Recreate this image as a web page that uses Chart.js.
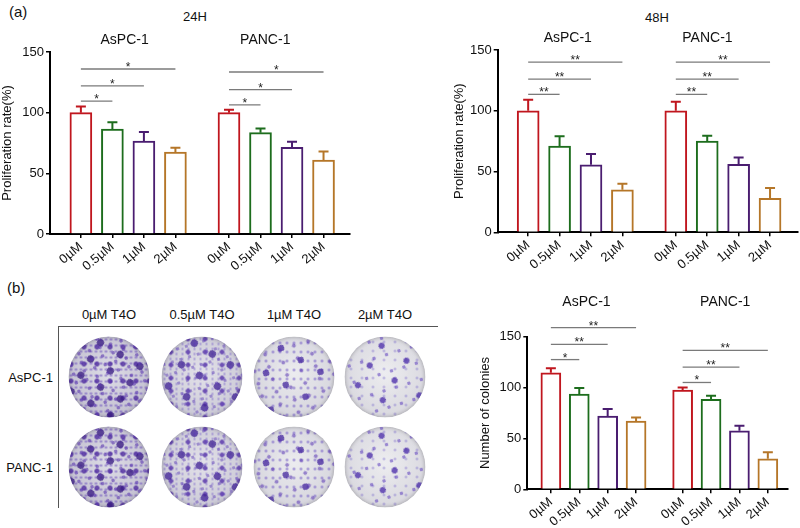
<!DOCTYPE html>
<html>
<head>
<meta charset="utf-8">
<script src="https://cdn.jsdelivr.net/npm/chart.js@4.4.1/dist/chart.umd.min.js"></script>
<style>
  html, body { margin: 0; padding: 0; background: #fff; }
  #fig { position: relative; width: 800px; height: 528px; overflow: hidden;
         font-family: "Liberation Sans", Arial, sans-serif; color: #111; }
  .txt { position: absolute; white-space: nowrap; line-height: 1; }
  .c { transform: translate(-50%, -50%); }
  .r { transform: translate(-100%, -50%); }
  .box { position: absolute; }
  .plate { position: absolute; border-radius: 50%; transform: translate(-50%, -50%);
           overflow: hidden; box-shadow: inset 0 0 4px rgba(0,0,0,.3); }
  .plate::before { content: ''; position: absolute; inset: 0; border-radius: 50%;
           transform: rotate(31deg); opacity: .9; }
  .plate::after { content: ''; position: absolute; inset: 0; border-radius: 50%;
           transform: rotate(-17deg); opacity: .8; }
  .d0 { background:
          radial-gradient(circle, rgba(80,45,160,.8) 0 2.2px, transparent 2.8px) 9px 2px/13px 17px,
          radial-gradient(circle, rgba(110,80,190,.55) 0 1px, transparent 1.6px) 0 0/5px 6px,
          radial-gradient(circle at 50% 45%, #dedde6, #b9b6c9); }
  .d0::before { background: radial-gradient(circle, rgba(55,25,130,.85) 0 3.4px, transparent 4.1px) 4px 6px/23px 19px; }
  .d0::after  { background: radial-gradient(circle, rgba(90,55,175,.75) 0 1.6px, transparent 2.2px) 2px 5px/11px 9px; }
  .d1 { background:
          radial-gradient(circle, rgba(85,50,170,.8) 0 2px, transparent 2.6px) 1px 9px/17px 13px,
          radial-gradient(circle, rgba(115,90,200,.45) 0 .9px, transparent 1.5px) 0 0/6px 5px,
          radial-gradient(circle at 50% 45%, #e3e2e9, #c3c1d0); }
  .d1::before { background: radial-gradient(circle, rgba(65,35,150,.85) 0 3.5px, transparent 4.2px) 6px 3px/21px 25px; }
  .d1::after  { background: radial-gradient(circle, rgba(100,70,185,.65) 0 1.3px, transparent 1.9px) 3px 1px/9px 11px; }
  .d2 { background:
          radial-gradient(circle, rgba(105,80,195,.55) 0 1px, transparent 1.6px) 2px 2px/7px 9px,
          radial-gradient(circle at 50% 45%, #ececef, #cecdd7); }
  .d2::before { background: radial-gradient(circle, rgba(70,40,160,.85) 0 3px, transparent 3.6px) 3px 8px/23px 29px; }
  .d2::after  { background: radial-gradient(circle, rgba(90,55,180,.7) 0 1.7px, transparent 2.3px) 12px 4px/15px 13px; }
  .d3 { background:
          radial-gradient(circle, rgba(110,90,200,.45) 0 .9px, transparent 1.5px) 1px 1px/11px 9px,
          radial-gradient(circle at 50% 45%, #ededf0, #d2d1d9); }
  .d3::before { background: radial-gradient(circle, rgba(75,45,170,.85) 0 2.8px, transparent 3.4px) 7px 4px/29px 23px; }
  .d3::after  { background: radial-gradient(circle, rgba(95,65,190,.7) 0 1.5px, transparent 2.1px) 3px 11px/13px 17px; }
</style>
</head>
<body>
<div id="fig">
  <div class="txt" style="left:9px;top:4px;font-size:15px">(a)</div>
  <div class="txt c" style="left:195px;top:16px;font-size:13px">24H</div>
  <div class="txt c" style="left:657px;top:17px;font-size:13px">48H</div>
  <div class="txt" style="left:7px;top:280px;font-size:15px">(b)</div>

  <div class="box" style="left:0;top:0;width:360px;height:290px"><canvas id="chart24"></canvas></div>
  <div class="box" style="left:452px;top:0;width:348px;height:290px"><canvas id="chart48"></canvas></div>
  <div class="box" style="left:478px;top:270px;width:322px;height:258px"><canvas id="chartColony"></canvas></div>

  <div id="plates"></div>
</div>

<script>
    // --- data ---
    const doses = ['0µM', '0.5µM', '1µM', '2µM'];
    const cellLines = ['AsPC-1', 'PANC-1'];
    const yTicks = [0, 50, 100, 150];

    // proliferation rate (%), 24H : mean / SD
    const prolif24Aspc = [100, 86.5, 76.5, 67.5];
    const prolif24AspcSd = [5, 5.5, 7.5, 3.5];
    const prolif24Panc = [100, 83.5, 71.5, 61];
    const prolif24PancSd = [2.5, 3.5, 4.5, 7];

    // proliferation rate (%), 48H
    const prolif48Aspc = [100, 71, 55.5, 35];
    const prolif48AspcSd = [9, 8, 9, 5];
    const prolif48Panc = [100, 75, 56, 28];
    const prolif48PancSd = [7.5, 4.5, 5.5, 8.5];

    // number of colonies
    const colonyAspc = [114.5, 93.5, 72, 67];
    const colonyAspcSd = [4.5, 6, 7, 3.5];
    const colonyPanc = [97.5, 88.5, 57.5, 30];
    const colonyPancSd = [2.5, 3.5, 5, 6.5];

    // significance bars: [cell line, from dose, to dose, level, mark]
    const sig24 = [
        [0, 0, 1, 109.5, '*'], [0, 0, 2, 122, '*'], [0, 0, 3, 136, '*'],
        [1, 0, 1, 106.5, '*'], [1, 0, 2, 119, '*'], [1, 0, 3, 133.5, '*']
    ];
    const sig48 = [
        [0, 0, 1, 113.5, '**'], [0, 0, 2, 126, '**'], [0, 0, 3, 140, '**'],
        [1, 0, 1, 113.5, '**'], [1, 0, 2, 126, '**'], [1, 0, 3, 140, '**']
    ];
    const sigColony = [
        [0, 0, 1, 127.5, '*'], [0, 0, 2, 142.5, '**'], [0, 0, 3, 159, '**'],
        [1, 0, 1, 105, '*'], [1, 0, 2, 120, '**'], [1, 0, 3, 136.5, '**']
    ];

    const plateHeaders = ['0µM T4O', '0.5µM T4O', '1µM T4O', '2µM T4O'];

    // --- styles ---
    const doseColors = ['#c0161e', '#1d6d1d', '#4a1d70', '#b57628'];
    const FONT = '"Liberation Sans", Arial, sans-serif';
    Chart.defaults.font.family = FONT;
    Chart.defaults.color = '#111';

    const pos = (g, i, gap) => g * (doses.length + gap) + i;

    const barExtras = {
        id: 'barExtras',
        afterDatasetsDraw(chart, args, o) {
            const ctx = chart.ctx, y = chart.scales.y;
            ctx.save();
            chart.data.datasets.forEach((ds, di) => {
                chart.getDatasetMeta(di).data.forEach((bar, i) => {
                    const yTop = y.getPixelForValue(ds.data[i].y + ds.sd[i]);
                    ctx.strokeStyle = doseColors[i];
                    ctx.lineWidth = 2;
                    ctx.beginPath();
                    ctx.moveTo(bar.x, bar.y);
                    ctx.lineTo(bar.x, yTop);
                    ctx.moveTo(bar.x - o.cap, yTop);
                    ctx.lineTo(bar.x + o.cap, yTop);
                    ctx.stroke();
                });
            });
            ctx.restore();
        },
        afterDraw(chart, args, o) {
            const ctx = chart.ctx, x = chart.scales.x, y = chart.scales.y;
            ctx.save();
            // significance bars
            o.sig.forEach(([g, a, b, level, mark]) => {
                const x1 = x.getPixelForValue(pos(g, a, o.gap));
                const x2 = x.getPixelForValue(pos(g, b, o.gap));
                const yy = y.getPixelForValue(level);
                ctx.strokeStyle = '#7a7a7a';
                ctx.lineWidth = 1.3;
                ctx.beginPath();
                ctx.moveTo(x1, yy);
                ctx.lineTo(x2, yy);
                ctx.stroke();
                ctx.fillStyle = '#222';
                ctx.font = '12px ' + FONT;
                ctx.textAlign = 'center';
                ctx.textBaseline = 'alphabetic';
                ctx.fillText(mark, (x1 + x2) / 2, yy + 2);
            });
            // cell line labels over each group
            ctx.fillStyle = '#111';
            ctx.font = '14px ' + FONT;
            ctx.textAlign = 'center';
            ctx.textBaseline = 'middle';
            cellLines.forEach((name, g) => {
                const cx = (x.getPixelForValue(pos(g, 0, o.gap)) + x.getPixelForValue(pos(g, doses.length - 1, o.gap))) / 2;
                ctx.fillText(name, cx + o.labelShift[g], o.labelY);
            });
            ctx.restore();
        }
    };

    function buildChart(id, cfg) {
        const datasets = cellLines.map((line, g) => ({
            label: line,
            data: cfg.means[g].map((v, i) => ({ x: pos(g, i, cfg.gap), y: v })),
            sd: cfg.sds[g],
            backgroundColor: '#ffffff',
            borderColor: doseColors,
            borderWidth: 2,
            barThickness: cfg.barW,
            grouped: false
        }));
        const tickPos = datasets.flatMap(d => d.data.map(p => p.x));

        return new Chart(document.getElementById(id), {
            type: 'bar',
            data: { datasets },
            options: {
                responsive: true,
                maintainAspectRatio: false,
                animation: false,
                events: [],
                layout: { padding: cfg.pad },
                plugins: {
                    legend: { display: false },
                    tooltip: { enabled: false },
                    barExtras: { sig: cfg.sig, gap: cfg.gap, cap: 5, labelY: cfg.labelY, labelShift: cfg.labelShift }
                },
                scales: {
                    x: {
                        type: 'linear',
                        offset: false,
                        min: cfg.xMin,
                        max: cfg.xMax,
                        afterBuildTicks: s => { s.ticks = tickPos.map(v => ({ value: v })); },
                        afterFit: s => { s.height = cfg.xH; },
                        ticks: {
                            autoSkip: false, minRotation: 40, maxRotation: 40, padding: 1,
                            color: '#111', font: { size: 13 },
                            callback: (v, i) => doses[i % doses.length]
                        },
                        grid: { offset: false, drawOnChartArea: false, tickLength: 4, color: '#000', lineWidth: 1.5 },
                        border: { color: '#000', width: 2 }
                    },
                    y: {
                        min: 0,
                        max: 150,
                        afterBuildTicks: s => { s.ticks = yTicks.map(v => ({ value: v })); },
                        afterFit: s => { s.width = cfg.yW; },
                        ticks: { color: '#111', font: { size: 13 }, padding: 2 },
                        grid: { drawOnChartArea: false, tickLength: 4, color: '#000', lineWidth: 1.5 },
                        border: { color: '#000', width: 2 },
                        title: { display: true, text: cfg.yTitle, font: { size: 13 }, color: '#111', padding: 0 }
                    }
                }
            },
            plugins: [barExtras]
        });
    }

    buildChart('chart24', {
        means: [prolif24Aspc, prolif24Panc], sds: [prolif24AspcSd, prolif24PancSd], sig: sig24,
        yTitle: 'Proliferation rate(%)', gap: 0.7, barW: 22,
        xMin: -0.98, xMax: 8.54, yW: 50, xH: 56,
        pad: { top: 52, right: 10, left: 0, bottom: 0 },
        labelY: 40, labelShift: [-3.5, -11]
    });

    buildChart('chart48', {
        means: [prolif48Aspc, prolif48Panc], sds: [prolif48AspcSd, prolif48PancSd], sig: sig48,
        yTitle: 'Proliferation rate(%)', gap: 0.7, barW: 22,
        xMin: -0.97, xMax: 8.59, yW: 45.7, xH: 57.7,
        pad: { top: 50, right: 2, left: 0, bottom: 0 },
        labelY: 38, labelShift: [-7.5, -15.5]
    });

    buildChart('chartColony', {
        means: [colonyAspc, colonyPanc], sds: [colonyAspcSd, colonyPancSd], sig: sigColony,
        yTitle: 'Number of colonies', gap: 0.64, barW: 20,
        xMin: -0.83, xMax: 8.35, yW: 49.3, xH: 38.7,
        pad: { top: 66.7, right: 12, left: 0, bottom: 0 },
        labelY: 32.3, labelShift: [-7, 0]
    });

    // --- colony plate panel (photos stand-in) ---
    function drawPlates() {
        const wrap = document.getElementById('plates');
        const colX = [109, 202, 294, 385];
        const rowY = [377, 467];
        let html = '';
        plateHeaders.forEach((h, i) => {
            html += `<div class="txt c" style="left:${colX[i]}px;top:314px;font-size:13px">${h}</div>`;
        });
        cellLines.forEach((name, r) => {
            html += `<div class="txt r" style="left:53px;top:${rowY[r]}px;font-size:13px">${name}</div>`;
            colX.forEach((cx, c) => {
                html += `<div class="plate d${c}" style="left:${cx}px;top:${rowY[r]}px;width:81px;height:81px"></div>`;
            });
        });
        html += '<div style="position:absolute;left:58px;top:326px;width:380px;height:1px;background:#555"></div>';
        html += '<div style="position:absolute;left:58px;top:326px;width:1px;height:182px;background:#555"></div>';
        wrap.innerHTML = html;
    }
    drawPlates();
</script>
</body>
</html>
